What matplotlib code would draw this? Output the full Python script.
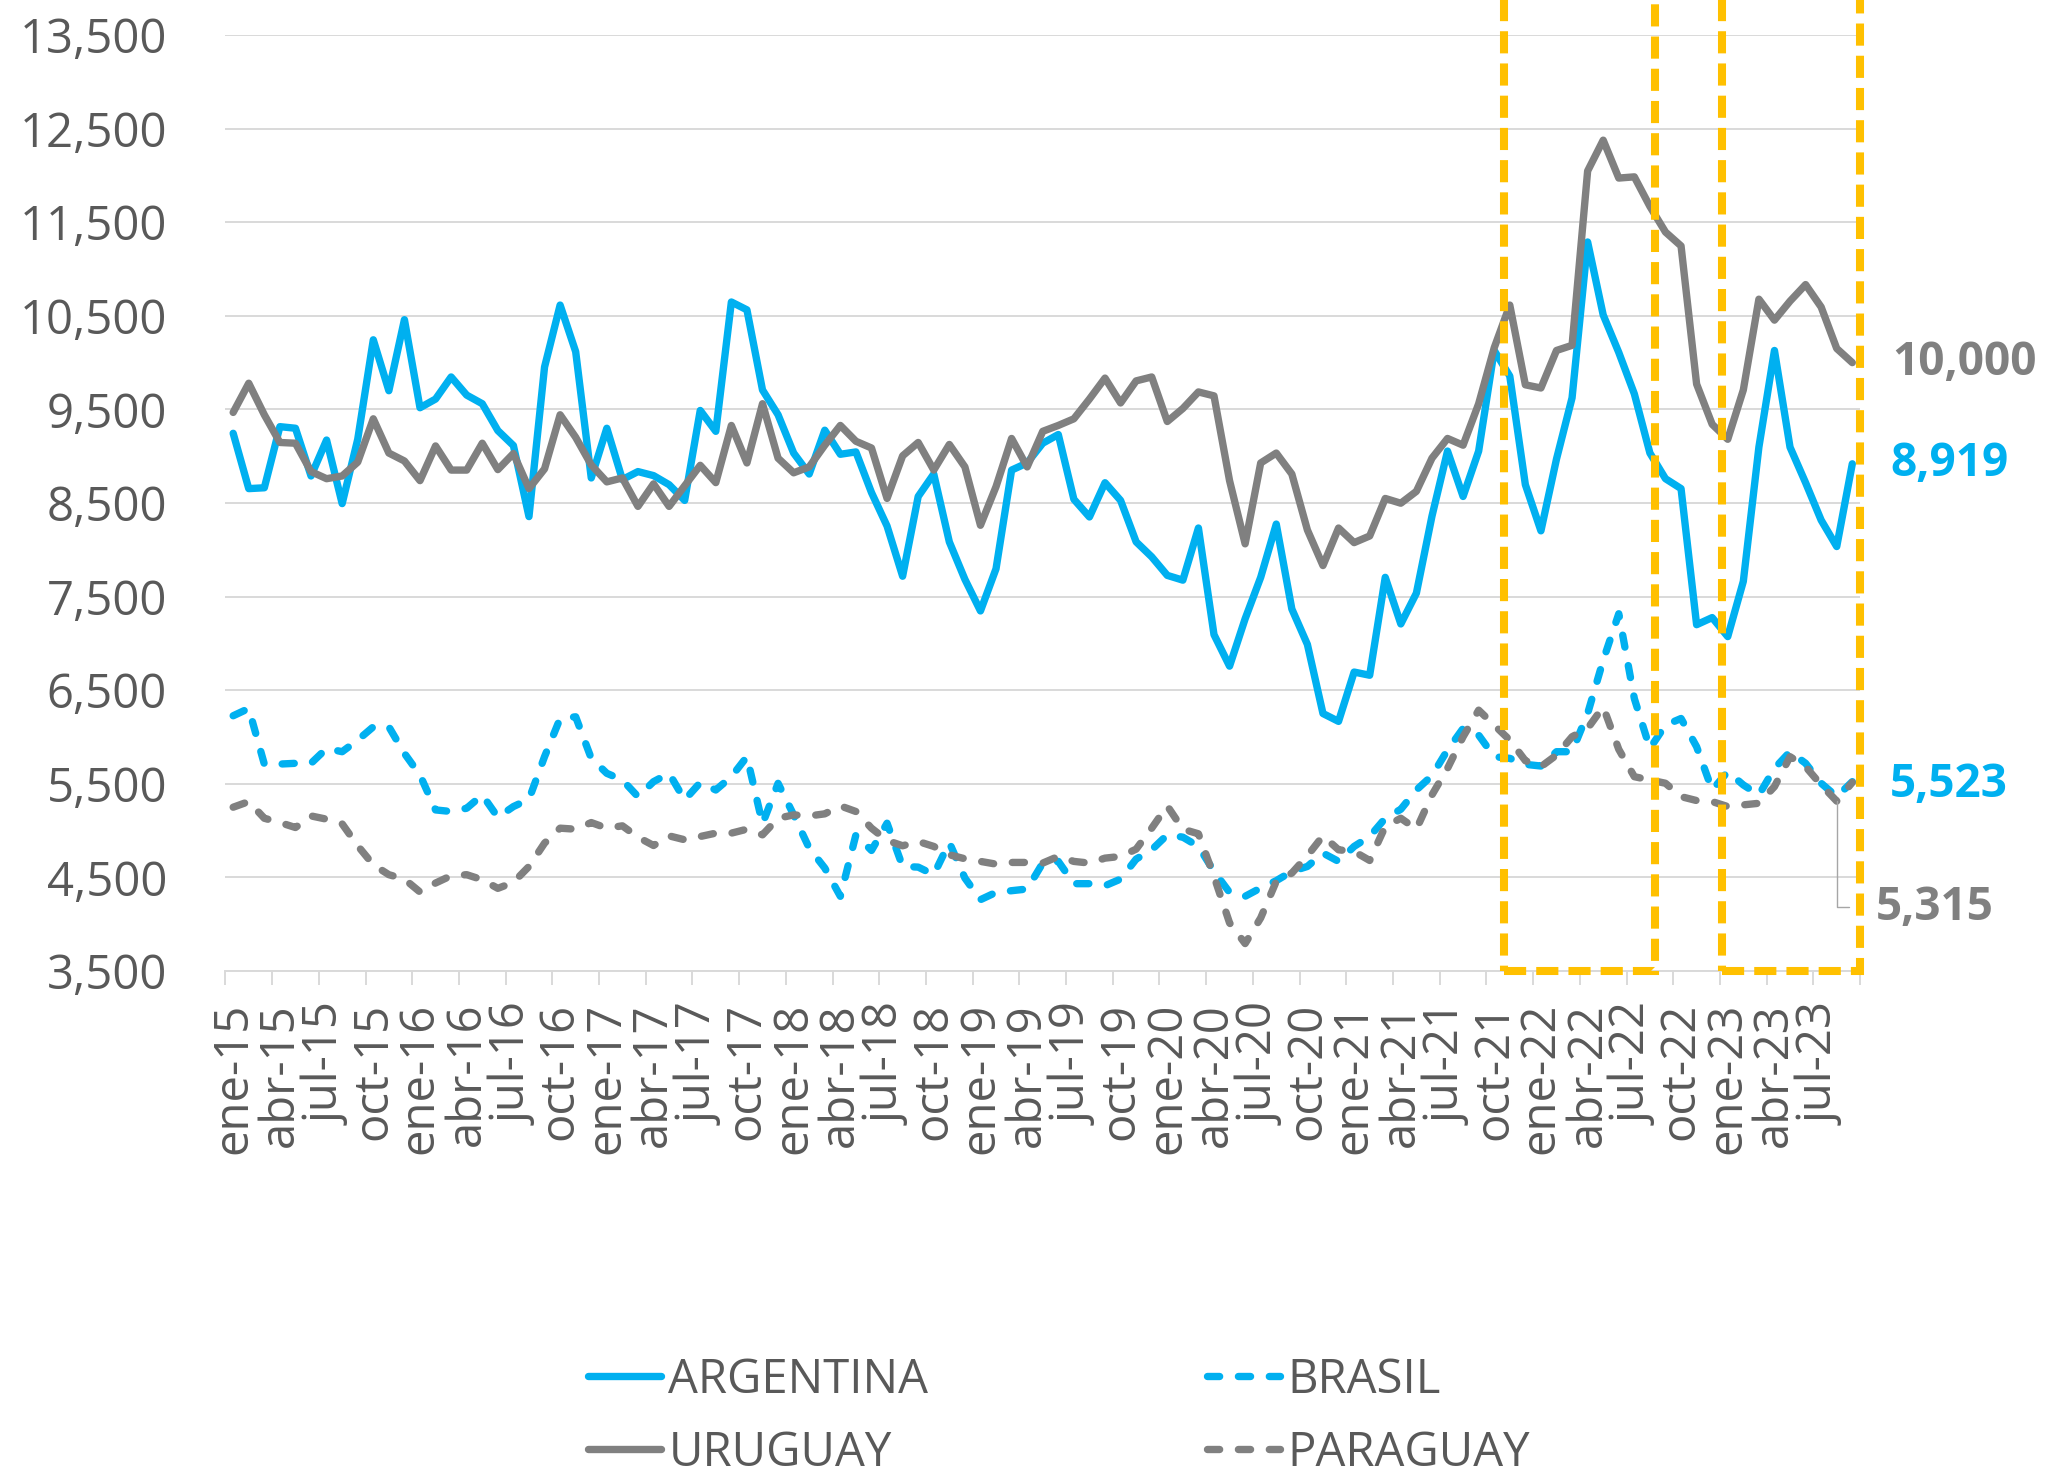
import matplotlib.pyplot as plt
from matplotlib.patches import Rectangle

plt.rcParams['font.family'] = ['Open Sans', 'DejaVu Sans']

# monthly periods ene-15 .. sep-23
month_names = ['ene', 'feb', 'mar', 'abr', 'may', 'jun', 'jul', 'ago', 'sep', 'oct', 'nov', 'dic']
periods = [f'{m}-{y}' for y in range(15, 24) for m in month_names][:105]

argentina = [9245, 8654, 8663, 9316, 9299, 8789, 9173, 8494, 9181, 10244, 9700, 10459,
             9518, 9611, 9847, 9653, 9561, 9274, 9114, 8355, 9953, 10615, 10117, 8768,
             9299, 8751, 8836, 8793, 8696, 8528, 9489, 9266, 10648, 10564, 9708, 9443,
             9034, 8810, 9278, 9021, 9046, 8612, 8254, 7718, 8570, 8810, 8085, 7685,
             7347, 7798, 8852, 8928, 9139, 9232, 8540, 8351, 8717, 8528, 8085, 7925,
             7727, 7676, 8233, 7094, 6757, 7263, 7706, 8275, 7368, 6989, 6251, 6167,
             6694, 6660, 7706, 7208, 7537, 8359, 9055, 8570, 9055, 10130, 9856, 8696,
             8203, 8970, 9624, 11289, 10509, 10109, 9666, 9034, 8760, 8654, 7200, 7276,
             7073, 7663, 9097, 10130, 9097, 8717, 8317, 8035, 8919]

uruguay = [9468, 9780, 9443, 9147, 9139, 8836, 8760, 8789, 8937, 9400, 9034, 8949,
           8739, 9110, 8852, 8852, 9139, 8857, 9029, 8654, 8865, 9443, 9202, 8907,
           8726, 8768, 8464, 8705, 8464, 8684, 8903, 8718, 9329, 8928, 9561, 8979,
           8823, 8886, 9118, 9329, 9160, 9088, 8549, 9004, 9147, 8852, 9126, 8886,
           8262, 8675, 9190, 8886, 9266, 9329, 9400, 9611, 9835, 9569, 9805, 9847,
           9371, 9510, 9687, 9645, 8739, 8064, 8928, 9034, 8810, 8212, 7832, 8233,
           8077, 8148, 8549, 8498, 8625, 8979, 9190, 9118, 9561, 10159, 10615, 9763,
           9729, 10130, 10185, 12048, 12377, 11972, 11985, 11669, 11395, 11247, 9771, 9341,
           9181, 9708, 10678, 10454, 10657, 10834, 10594, 10151, 10000]

brasil = [6227, 6305, 5711, 5711, 5719, 5719, 5878, 5843, 5967, 6109, 6109, 5825,
          5594, 5221, 5204, 5239, 5381, 5143, 5257, 5335, 5790, 6198, 6216, 5772,
          5612, 5541, 5363, 5523, 5612, 5328, 5513, 5434, 5576, 5790, 5072, 5505,
          5168, 4813, 4600, 4298, 4955, 4788, 5079, 4617, 4610, 4529, 4873, 4493,
          4262, 4340, 4358, 4376, 4653, 4671, 4433, 4433, 4411, 4482, 4696, 4795,
          4955, 4930, 4831, 4564, 4340, 4298, 4387, 4465, 4564, 4617, 4760, 4671,
          4831, 4937, 5132, 5228, 5434, 5587, 5861, 6092, 6020, 5790, 5772, 5708,
          5690, 5843, 5843, 6251, 6820, 7317, 6411, 5878, 6127, 6198, 5896, 5434,
          5630, 5488, 5381, 5665, 5843, 5719, 5506, 5363, 5523]

paraguay = [5250, 5310, 5132, 5086, 5033, 5157, 5122, 5072, 4838, 4635, 4529, 4482,
            4344, 4440, 4518, 4529, 4475, 4383, 4447, 4617, 4866, 5026, 5015, 5086,
            5026, 5051, 4930, 4841, 4944, 4902, 4937, 4973, 4973, 5015, 4955, 5132,
            5168, 5157, 5179, 5264, 5204, 5026, 4895, 4838, 4884, 4831, 4742, 4699,
            4671, 4642, 4660, 4660, 4653, 4724, 4671, 4653, 4706, 4724, 4802, 5026,
            5264, 5015, 4966, 4511, 4014, 3793, 4067, 4458, 4546, 4731, 4944, 4795,
            4777, 4681, 5044, 5132, 5015, 5381, 5665, 6003, 6287, 6127, 5967, 5747,
            5683, 5807, 6003, 6092, 6322, 5868, 5576, 5541, 5506, 5363, 5321, 5310,
            5257, 5275, 5292, 5470, 5790, 5683, 5488, 5315, 5515]

# highlighted windows (category units)
boxes = [(81.6, 91.3), (95.6, 104.5)]

BLUE = '#00B0F0'
GREY = '#808080'
TXT = '#595959'
GRID = '#D9D9D9'

x = list(range(len(periods)))

fig = plt.figure(figsize=(20.49, 14.73), dpi=100)
ax = fig.add_axes([0.1100, 0.3408, 0.7978, 0.6354])

lw = 5.3
dash = (0, (1.65, 2.55))
l_arg, = ax.plot(x, argentina, color=BLUE, lw=lw, solid_joinstyle='round', solid_capstyle='round')
l_bra, = ax.plot(x, brasil, color=BLUE, lw=lw, ls=dash, dash_capstyle='round', dash_joinstyle='round')
l_uru, = ax.plot(x, uruguay, color=GREY, lw=lw, solid_joinstyle='round', solid_capstyle='round')
l_par, = ax.plot(x, paraguay, color=GREY, lw=lw, ls=dash, dash_capstyle='round', dash_joinstyle='round')

ax.set_xlim(-0.5, len(periods) - 0.5)
ax.set_ylim(3500, 13500)

yt = list(range(3500, 14000, 1000))
ax.set_yticks(yt)
ax.set_yticklabels([f'{v:,}' for v in yt])
ax.yaxis.grid(True, color=GRID, lw=1.4)
ax.set_axisbelow(True)

ax.set_xticks(x[::3])
ax.set_xticklabels(periods[::3], rotation=90)
ax.set_xticks([i - 0.5 for i in range(0, len(periods) + 1, 3)], minor=True)
ax.tick_params(axis='x', which='major', length=0, pad=23, labelsize=34, labelcolor=TXT)
ax.tick_params(axis='x', which='minor', length=10, width=1.4, color=GRID)
ax.tick_params(axis='y', length=0, pad=42, labelsize=34, labelcolor=TXT)

for s in ['top', 'right', 'left']:
    ax.spines[s].set_visible(False)
ax.spines['bottom'].set_color(GRID)
ax.spines['bottom'].set_linewidth(1.4)

for x0, x1 in boxes:
    ax.add_patch(Rectangle((x0, 3500), x1 - x0, 11000, fill=False, ec='#FFC000', lw=5.8,
                           ls=(0, (2.75, 1.25)), clip_on=False, zorder=5))

last = len(periods) - 1
lab = dict(textcoords='offset pixels', ha='left', va='center', fontsize=33, fontweight='bold')
ax.annotate(f'{uruguay[last]:,}', xy=(last, uruguay[last]), xytext=(40, 0), color=GREY, **lab)
ax.annotate(f'{argentina[last]:,}', xy=(last, argentina[last]), xytext=(38, 0), color=BLUE, **lab)
ax.annotate(f'{brasil[last]:,}', xy=(last, brasil[last]), xytext=(38, -3), color=BLUE, **lab)
ax.annotate(f'{paraguay[last - 1]:,}', xy=(last - 1, paraguay[last - 1]), xytext=(39, -106),
            color=GREY, **lab,
            arrowprops=dict(arrowstyle='-', color='#A6A6A6', lw=1.0, relpos=(0, 0.5),
                            connectionstyle='angle,angleA=0,angleB=90,rad=0',
                            shrinkA=17, shrinkB=0))

fig.legend([l_arg, l_uru, l_bra, l_par], ['ARGENTINA', 'URUGUAY', 'BRASIL', 'PARAGUAY'],
           ncol=2, loc='upper left', bbox_to_anchor=(588 / 2049, 0.0794), frameon=False,
           fontsize=34, labelcolor=TXT, handlelength=1.55, handletextpad=0.15,
           columnspacing=5.9, labelspacing=0.54, borderpad=0, borderaxespad=0)

fig.savefig('out.png', dpi=100)
